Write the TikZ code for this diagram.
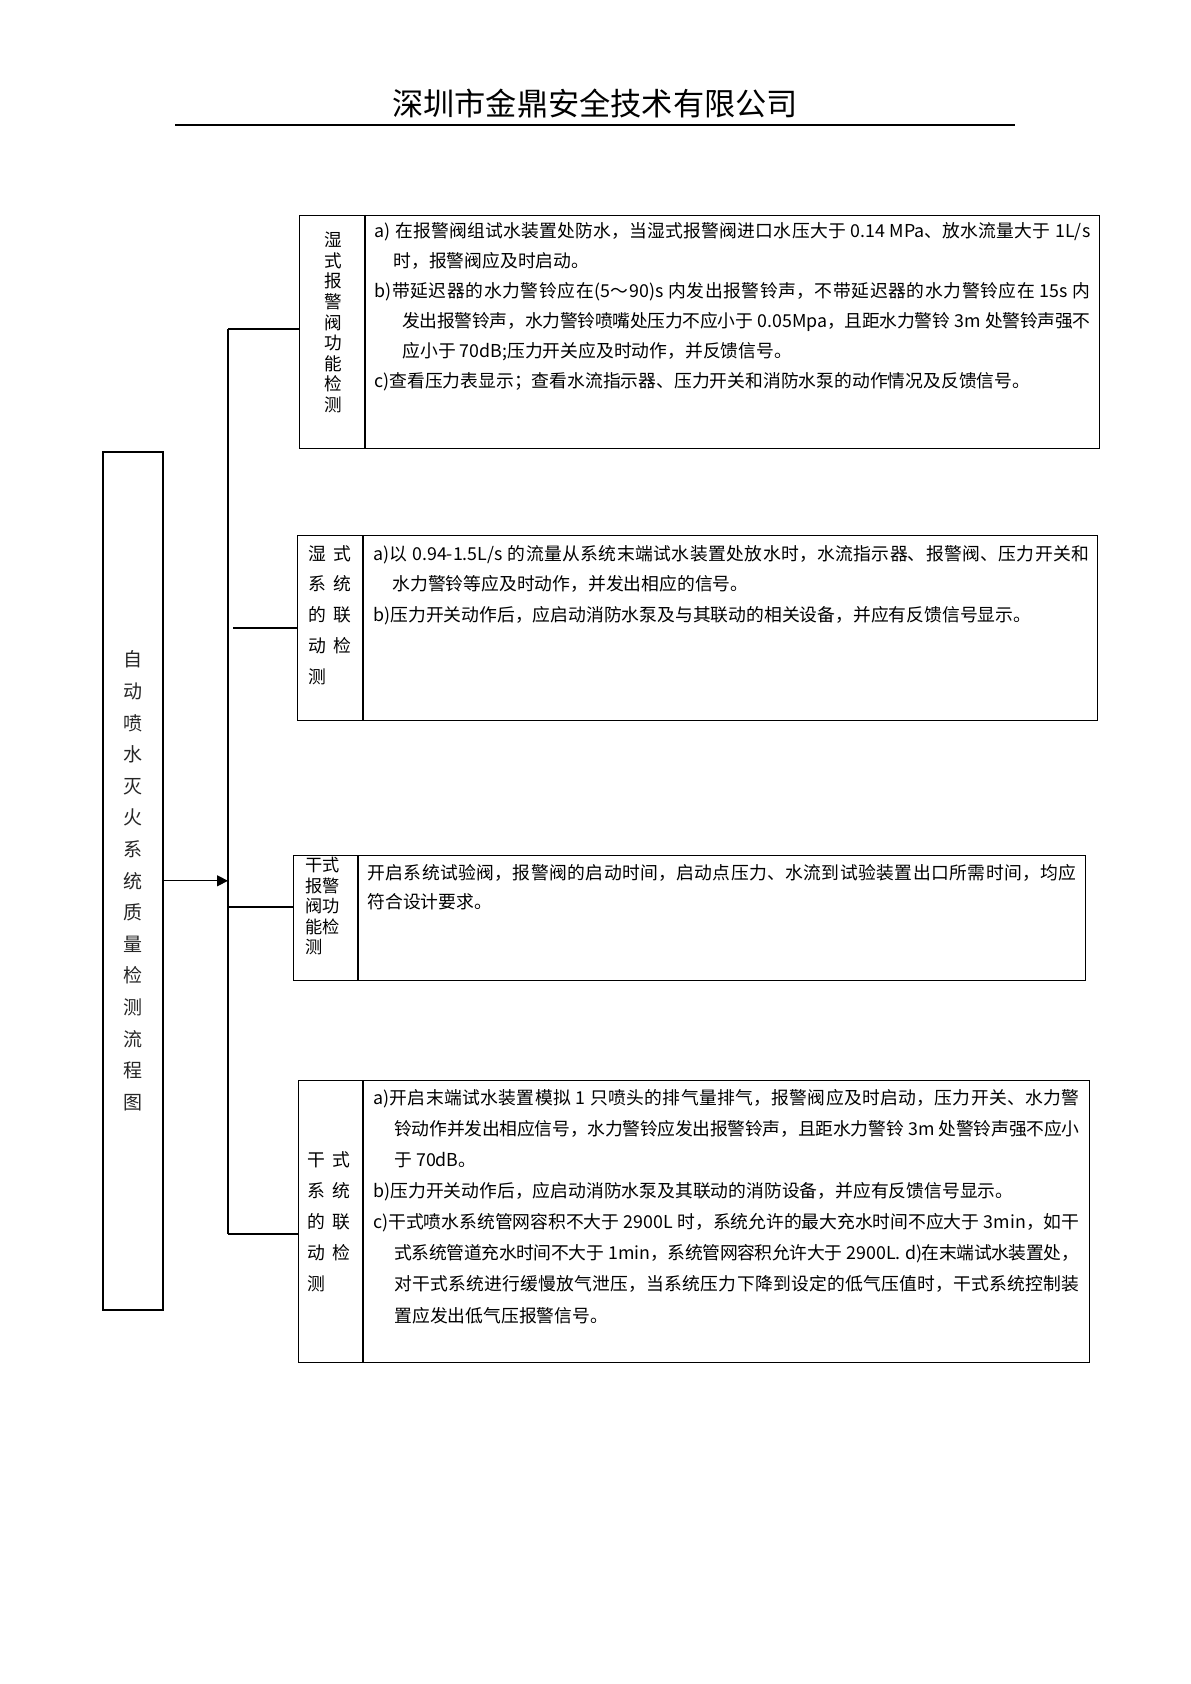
\documentclass[tikz,border=0pt]{standalone}
\usepackage{fontspec}
\setmainfont{Noto Sans CJK SC}
\usetikzlibrary{arrows.meta}
\XeTeXlinebreaklocale "zh"
\XeTeXlinebreakskip=0pt plus 2pt minus 1pt
\newcommand{\jl}[2]{\parbox[t]{#1}{\parindent=0pt\parfillskip=0pt\hbadness=10000\spaceskip=0.25em plus 0.1em minus 0.05em\relax #2}}
\tikzset{
  box/.style={draw, line width=0.7pt, inner sep=0pt, anchor=north west},
  conn/.style={line width=0.6pt},
  body/.style={anchor=base west, inner sep=0pt, font=\fontsize{8.9pt}{15pt}\selectfont},
  labrow/.style={anchor=base west, inner sep=0pt, font=\fontsize{8.9pt}{15pt}\selectfont},
  labsm/.style={anchor=base west, inner sep=0pt, font=\fontsize{8.6pt}{10pt}\selectfont},
}
\begin{document}
\begin{tikzpicture}[x=0.5pt,y=-0.5pt]
\useasboundingbox[fill=white] (0,0) rectangle (1190,1684);

% title
\node[inner sep=0pt, font=\fontsize{15.6pt}{16pt}\selectfont] (title) at (595,104) {深圳市金鼎安全技术有限公司};
\coordinate (ulA) at (175,125);
\coordinate (ulB) at (1015,125);
\draw[line width=1pt] (ulA) -- (ulB);

% main box
\node[box, line width=0.8pt, minimum width=30pt, minimum height=429pt] (main) at (102,451) {};
\node[align=center, inner sep=0pt, text=black!85, font=\fontsize{9.5pt}{15.8pt}\selectfont] (mainlab) at (main.center)
  {自\\动\\喷\\水\\灭\\火\\系\\统\\质\\量\\检\\测\\流\\程\\图};

% boxes
\node[box, minimum width=400pt, minimum height=116.5pt] (b1) at (299,215) {};
\node[box, minimum width=400pt, minimum height=92.5pt] (b2) at (297,535) {};
\node[box, minimum width=396pt, minimum height=62.5pt] (b3) at (293,855) {};
\node[box, minimum width=395.5pt, minimum height=141pt] (b4) at (298,1080) {};

% dividers
\draw[line width=0.7pt] (365,215) -- (365,448);
\draw[line width=0.7pt] (363,535) -- (363,720);
\draw[line width=0.7pt] (358,855) -- (358,980);
\draw[line width=0.7pt] (363,1080) -- (363,1362);

% connectors
\coordinate (vtop) at (228,329);
\coordinate (vbot) at (228,1234);
\coordinate (b2s) at (233,628);
\coordinate (j3) at (228,907);
\draw[conn] (vtop) -- (vbot);
\draw[conn] (vtop) -- (vtop -| b1.west);
\draw[conn] (b2s) -- (b2s -| b2.west);
\draw[conn] (j3) -- (j3 -| b3.west);
\draw[conn] (vbot) -- (vbot -| b4.west);
\draw[conn, -{Triangle[length=5.5pt,width=5.5pt]}] (main.east) -- (main.east -| vtop);

% box 1 label and text
\node[align=center, inner sep=0pt, font=\fontsize{8.8pt}{10.3pt}\selectfont] (l1) at (333,322.5)
  {湿\\式\\报\\警\\阀\\功\\能\\检\\测};
\node[body] (t1a) at (374,238) {\jl{358pt}{a) 在报警阀组试水装置处防水，当湿式报警阀进口水压大于 0.14 MPa、放水流量大于 1L/s}};
\node[body] (t1b) at (393,268) {时，报警阀应及时启动。};
\node[body] (t1c) at (374,298) {\jl{358pt}{b)带延迟器的水力警铃应在(5～90)s 内发出报警铃声，不带延迟器的水力警铃应在 15s 内}};
\node[body] (t1d) at (402,328) {\jl{344pt}{发出报警铃声，水力警铃喷嘴处压力不应小于 0.05Mpa，且距水力警铃 3m 处警铃声强不}};
\node[body] (t1e) at (402,358) {应小于 70dB;压力开关应及时动作，并反馈信号。};
\node[body] (t1f) at (374,388) {c)查看压力表显示；查看水流指示器、压力开关和消防水泵的动作情况及反馈信号。};

% box 2 label and text
\node[labrow] (l2a) at (308,560) {湿\hspace{3.5pt}式};
\node[labrow] (l2b) at (308,590.8) {系\hspace{3.5pt}统};
\node[labrow] (l2c) at (308,621.6) {的\hspace{3.5pt}联};
\node[labrow] (l2d) at (308,652.4) {动\hspace{3.5pt}检};
\node[labrow] (l2e) at (308,683.2) {测};
\node[body] (t2a) at (373,560) {\jl{358pt}{a)以 0.94-1.5L/s 的流量从系统末端试水装置处放水时，水流指示器、报警阀、压力开关和}};
\node[body] (t2b) at (392,590.8) {水力警铃等应及时动作，并发出相应的信号。};
\node[body] (t2c) at (373,621.6) {b)压力开关动作后，应启动消防水泵及与其联动的相关设备，并应有反馈信号显示。};

% box 3 label and text
\node[labsm] (l3a) at (305,871.5) {干式};
\node[labsm] (l3b) at (305,892) {报警};
\node[labsm] (l3c) at (305,912.5) {阀功};
\node[labsm] (l3d) at (305,933) {能检};
\node[labsm] (l3e) at (305,953.5) {测};
\node[body] (t3a) at (367,879) {\jl{354.5pt}{开启系统试验阀，报警阀的启动时间，启动点压力、水流到试验装置出口所需时间，均应}};
\node[body] (t3b) at (367,908) {符合设计要求。};

% box 4 label and text
\node[labrow] (l4a) at (307,1166) {干\hspace{3.5pt}式};
\node[labrow] (l4b) at (307,1197) {系\hspace{3.5pt}统};
\node[labrow] (l4c) at (307,1228) {的\hspace{3.5pt}联};
\node[labrow] (l4d) at (307,1259) {动\hspace{3.5pt}检};
\node[labrow] (l4e) at (307,1290) {测};
\node[body] (t4a) at (373,1104) {\jl{353pt}{a)开启末端试水装置模拟 1 只喷头的排气量排气，报警阀应及时启动，压力开关、水力警}};
\node[body] (t4b) at (394,1135) {\jl{342.5pt}{铃动作并发出相应信号，水力警铃应发出报警铃声，且距水力警铃 3m 处警铃声强不应小}};
\node[body] (t4c) at (394,1166) {于 70dB。};
\node[body] (t4d) at (373,1197) {b)压力开关动作后，应启动消防水泵及其联动的消防设备，并应有反馈信号显示。};
\node[body] (t4e) at (373,1228) {\jl{353pt}{c)干式喷水系统管网容积不大于 2900L 时，系统允许的最大充水时间不应大于 3min，如干}};
\node[body] (t4f) at (394,1259) {\jl{342.5pt}{式系统管道充水时间不大于 1min，系统管网容积允许大于 2900L. d)在末端试水装置处，}};
\node[body] (t4g) at (394,1290) {\jl{342.5pt}{对干式系统进行缓慢放气泄压，当系统压力下降到设定的低气压值时，干式系统控制装}};
\node[body] (t4h) at (394,1322) {置应发出低气压报警信号。};
\end{tikzpicture}
\end{document}
